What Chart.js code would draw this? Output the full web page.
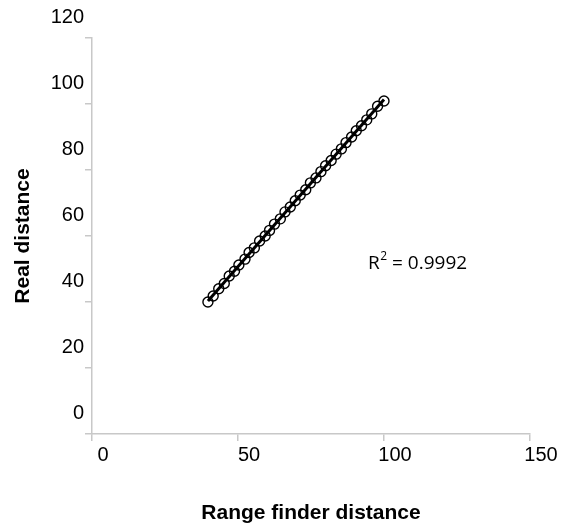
<!DOCTYPE html>
<html>
<head>
<meta charset="utf-8">
<script src="https://cdn.jsdelivr.net/npm/chart.js@4.4.1/dist/chart.umd.min.js"></script>
<style>
  html, body { margin: 0; padding: 0; background: #ffffff; }
  #wrap { width: 561px; height: 528px; }
</style>
</head>
<body>
<div id="wrap"><canvas id="c" width="561" height="528"></canvas></div>
<script>
// Data
const rangeFinder = [39.7, 41.5, 43.4, 45.3, 47.0, 48.8, 50.3, 52.4, 53.8, 55.6,
  57.4, 59.3, 60.8, 62.5, 64.5, 66.1, 67.9, 69.6, 71.3, 73.2,
  74.8, 76.7, 78.4, 80.0, 81.9, 83.6, 85.4, 87.0, 88.9, 90.5,
  92.3, 94.1, 95.8, 97.8, 100.0];
const realDistance = [40.0, 41.8, 44.0, 45.6, 47.9, 49.3, 51.2, 53.0, 55.0, 56.4,
  58.5, 60.0, 61.7, 63.6, 65.2, 67.3, 68.8, 70.7, 72.4, 74.0,
  76.1, 77.6, 79.5, 81.3, 82.9, 84.8, 86.4, 88.3, 90.0, 91.9,
  93.4, 95.2, 97.0, 99.3, 100.9];
const xTickValues = [0, 50, 100, 150];
const yTickValues = [0, 20, 40, 60, 80, 100, 120];
const xTitle = 'Range finder distance';
const yTitle = 'Real distance';
const r2Text = '0.9992';

// Linear regression trend line from the data
const n = rangeFinder.length;
const mx = rangeFinder.reduce((a, b) => a + b, 0) / n;
const my = realDistance.reduce((a, b) => a + b, 0) / n;
let sxy = 0, sxx = 0;
for (let i = 0; i < n; i++) { sxy += (rangeFinder[i] - mx) * (realDistance[i] - my); sxx += (rangeFinder[i] - mx) ** 2; }
const slope = sxy / sxx, intercept = my - slope * mx;
const xMin = Math.min(...rangeFinder), xMax = Math.max(...rangeFinder);
const trend = [{x: xMin, y: intercept + slope * xMin}, {x: xMax, y: intercept + slope * xMax}];

const points = rangeFinder.map((x, i) => ({x, y: realDistance[i]}));

const r2Plugin = {
  id: 'r2',
  afterDraw(chart) {
    const ctx = chart.ctx, a = chart.chartArea;
    const x0 = a.left + 276, yb = a.top + 231;
    ctx.save();
    ctx.fillStyle = '#000';
    ctx.textBaseline = 'alphabetic';
    ctx.textAlign = 'left';
    ctx.font = '19px "Open Sans"';
    ctx.fillText('R', x0, yb);
    const wR = ctx.measureText('R').width;
    ctx.font = '12px "Open Sans"';
    ctx.fillText('2', x0 + wR + 0.5, yb - 9);
    const w2 = ctx.measureText('2').width;
    ctx.font = '19px "Open Sans"';
    ctx.fillText(' = ' + r2Text, x0 + wR + w2 + 0.5, yb);
    ctx.restore();
  }
};

const axisColor = '#c8c8c8';
new Chart(document.getElementById('c'), {
  type: 'scatter',
  data: {
    datasets: [
      {
        type: 'line', data: trend, borderColor: '#000', borderWidth: 3,
        pointRadius: 0, fill: false, order: 2
      },
      {
        data: points, borderColor: '#000', backgroundColor: 'rgba(0,0,0,0)',
        pointRadius: 5, borderWidth: 1.4, pointHoverRadius: 5, order: 1
      }
    ]
  },
  options: {
    responsive: false,
    animation: false,
    events: [],
    layout: { padding: { left: 0, right: 31, top: 38, bottom: 0 } },
    plugins: { legend: { display: false }, tooltip: { enabled: false } },
    scales: {
      x: {
        type: 'linear', min: 0, max: 150,
        afterBuildTicks: s => { s.ticks = xTickValues.map(v => ({value: v})); },
        afterFit: s => { s.height = 94; },
        border: { color: axisColor, width: 1.5 },
        grid: { drawOnChartArea: false, drawTicks: true, tickLength: 7, color: axisColor, lineWidth: 1.5 },
        ticks: { color: '#000', font: { family: '"Liberation Sans", Arial', size: 20 }, labelOffset: 11, padding: 2, maxRotation: 0 },
        title: { display: true, text: xTitle, color: '#000', font: { family: '"Liberation Sans", Arial', size: 21, weight: 'bold' }, padding: { top: 0, bottom: 2 } }
      },
      y: {
        type: 'linear', min: 0, max: 120,
        afterBuildTicks: s => { s.ticks = yTickValues.map(v => ({value: v})); },
        afterFit: s => { s.width = 92; },
        border: { color: axisColor, width: 1.5 },
        grid: { drawOnChartArea: false, drawTicks: true, tickLength: 7, color: axisColor, lineWidth: 1.5 },
        ticks: { color: '#000', font: { family: '"Liberation Sans", Arial', size: 20 }, labelOffset: -21, padding: 1 },
        title: { display: true, text: yTitle, color: '#000', font: { family: '"Liberation Sans", Arial', size: 21, weight: 'bold' }, padding: { top: 11, bottom: 0 } }
      }
    }
  },
  plugins: [r2Plugin]
});
</script>
</body>
</html>
